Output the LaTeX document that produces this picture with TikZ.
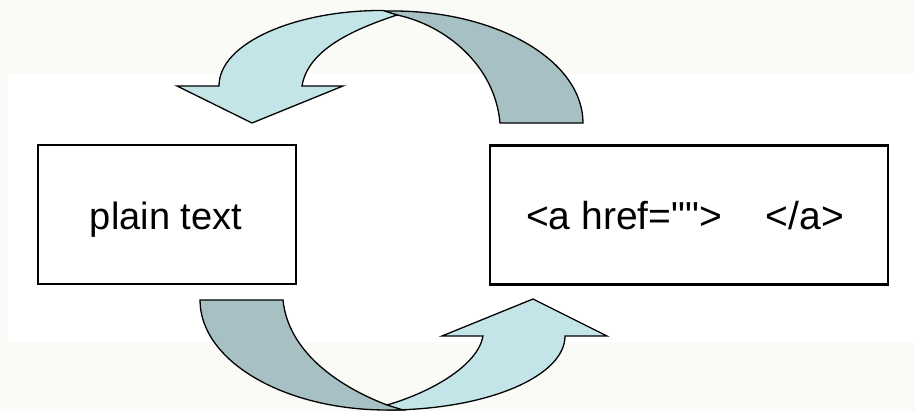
\documentclass[tikz,border=0pt]{standalone}
\usepackage{fontspec}
\setmainfont{Liberation Sans}[Ligatures=TeXOff]
\definecolor{paper}{RGB}{250,251,246}
\definecolor{bandback}{RGB}{167,192,195}
\definecolor{bandfront}{RGB}{196,229,232}
\tikzset{
  band/.style={draw=black, line width=1.3pt, line join=miter},
  box/.style={draw=black, line width=2.4pt, fill=white, inner sep=0pt, outer sep=0pt},
  lbl/.style={anchor=base, inner sep=0pt, font=\fontsize{38}{44}\selectfont}
}
\begin{document}
\begin{tikzpicture}[x=1pt, y=-1pt]
  \useasboundingbox (0,0) rectangle (915,411);
  % page and slide area
  \fill[paper] (0,0) rectangle (915,411);
  \fill[white] (8,74) rectangle (915,342);

  % upper curved arrow: back ribbon, then front ribbon with head
  \draw[band, fill=bandback] (500,123) -- (583,123)
    .. controls (583,61.1) and (497.9,11) .. (393,11) -- (383,11) -- (397,15)
    .. controls (445,25) and (495,65) .. (500,123) -- cycle;
  \draw[band, fill=bandfront] (219,86)
    .. controls (219,42) and (298,10) .. (383,10.5) -- (397,15)
    .. controls (358,28) and (308,48) .. (302,86)
    -- (343,86) -- (252,123) -- (177,86) -- cycle;

  % lower curved arrow: front ribbon with head, then back ribbon over it
  \draw[band, fill=bandfront] (565,336)
    .. controls (565,376.9) and (485.3,410) .. (387,410) -- (387,405)
    .. controls (432,392) and (478,365) .. (483,336)
    -- (442,336) -- (533,299) -- (607,336) -- cycle;
  \draw[band, fill=bandback] (200,300)
    .. controls (200,360.75) and (283.7,410) .. (387,410) -- (403,410) -- (387,405)
    .. controls (335,385) and (288,350) .. (283,300) -- cycle;

  % the two boxes
  \node[box, minimum width=258pt, minimum height=139pt] (plain) at (167,214.5) {};
  \node[box, minimum width=398pt, minimum height=139pt] (html) at (689,215) {};
  \node[lbl] (plainlbl) at (166,230) {plain text};
  \node[lbl, font=\fontsize{39}{44}\selectfont] (htmllbl) at (685,230)
    {<a href="">\hspace{44pt}</a>};
\end{tikzpicture}
\end{document}
